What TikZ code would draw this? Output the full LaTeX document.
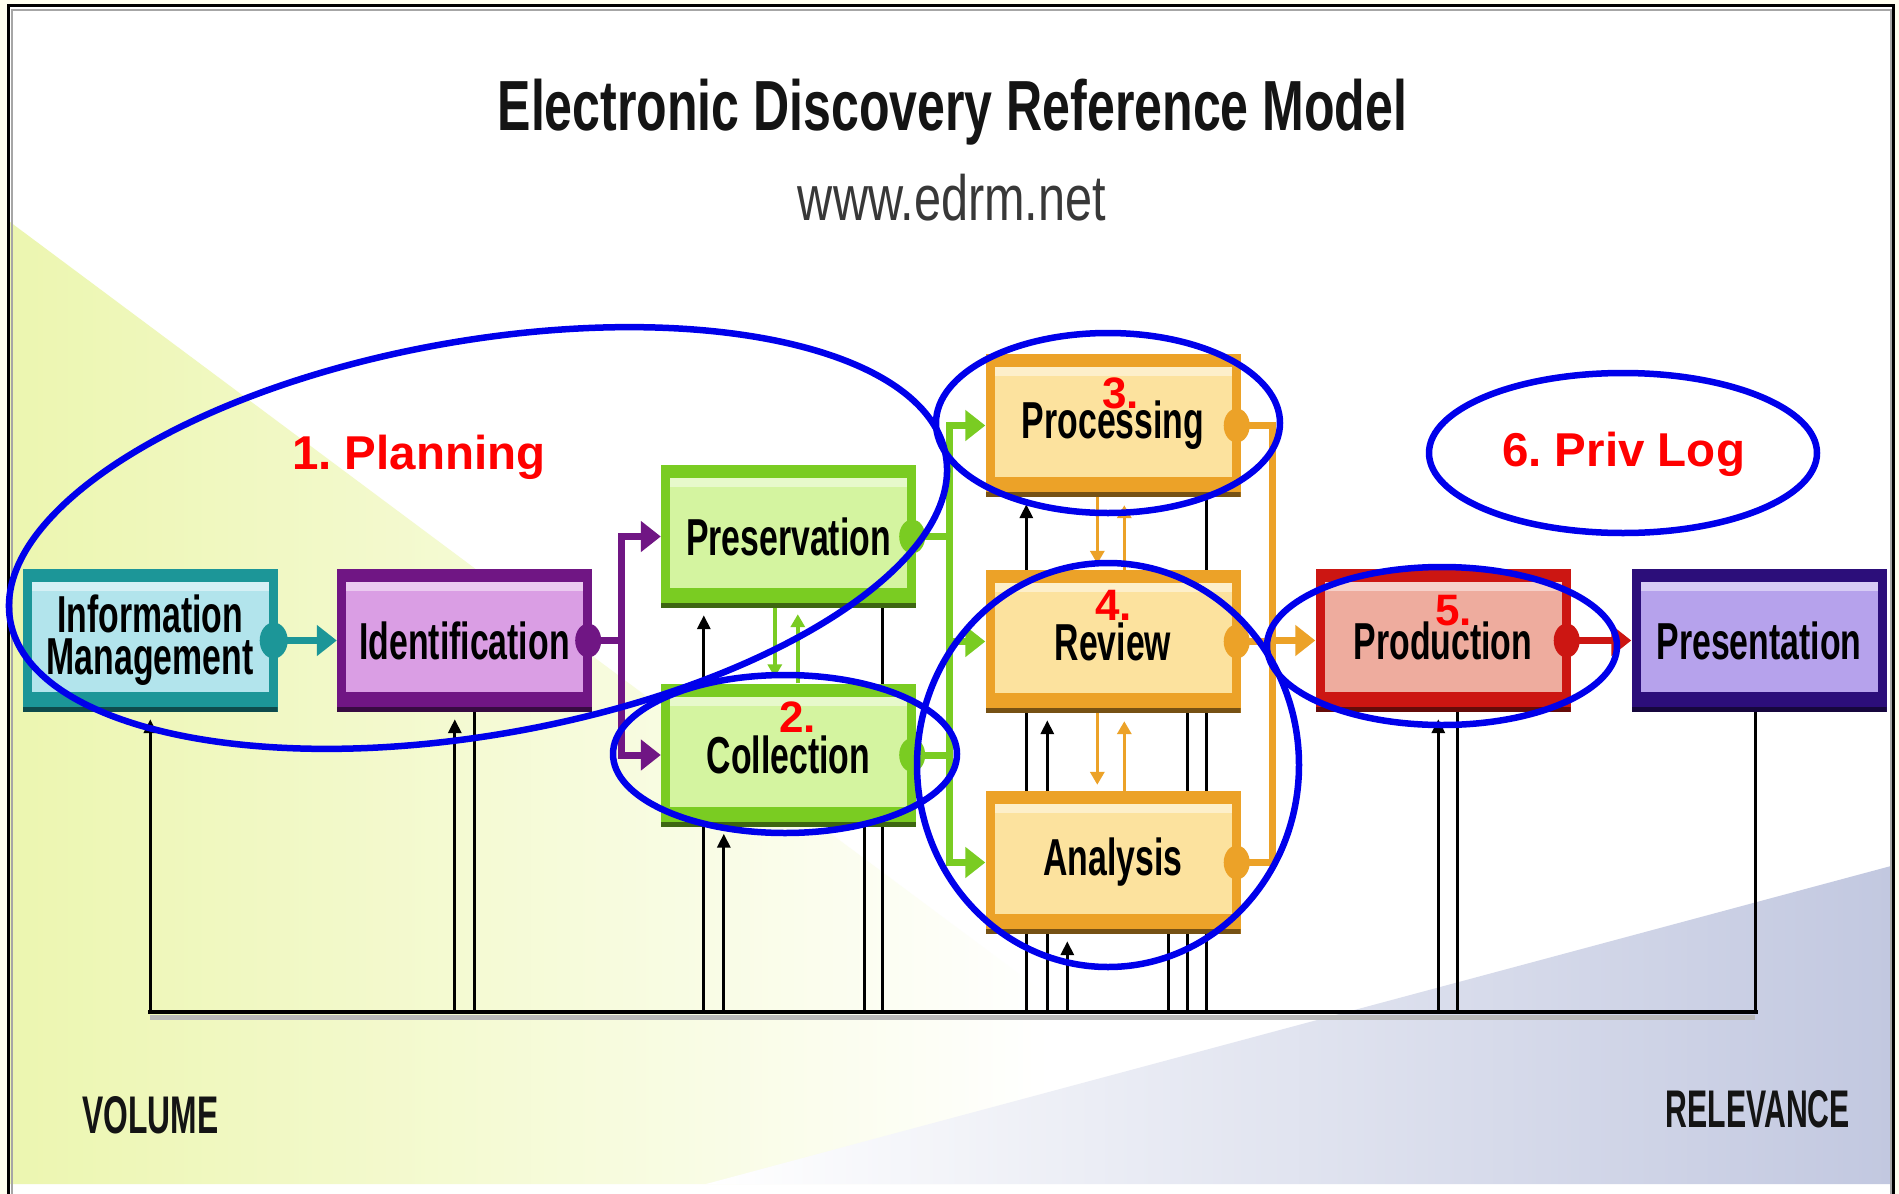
\documentclass[tikz,border=0pt]{standalone}
\usepackage{fontspec}
\setmainfont{Liberation Sans}
\newfontfamily\boxfam[FakeStretch=0.65]{Liberation Sans}
\newfontfamily\titlefam[FakeStretch=0.705]{Liberation Sans}
\newfontfamily\urlfam[FakeStretch=0.76]{Liberation Sans}
\newfontfamily\volfam[FakeStretch=0.6]{Liberation Sans}
\newfontfamily\relfam[FakeStretch=0.57]{Liberation Sans}
\usetikzlibrary{arrows.meta,calc}
\frenchspacing
\pgfdeclarelayer{back}
\pgfdeclarelayer{wires}
\pgfdeclarelayer{front}
\pgfsetlayers{back,wires,main,front}
\definecolor{tealD}{RGB}{28,150,152}
\definecolor{tealL}{RGB}{178,228,236}
\definecolor{purD}{RGB}{112,22,132}
\definecolor{purL}{RGB}{218,158,228}
\definecolor{grnD}{RGB}{122,204,34}
\definecolor{grnL}{RGB}{212,244,160}
\definecolor{orgD}{RGB}{236,162,40}
\definecolor{orgL}{RGB}{252,226,158}
\definecolor{redD}{RGB}{204,22,18}
\definecolor{redL}{RGB}{238,172,158}
\definecolor{indD}{RGB}{44,14,122}
\definecolor{indL}{RGB}{182,162,236}
\definecolor{yel}{RGB}{236,246,176}
\definecolor{blu}{RGB}{194,200,224}
\definecolor{cream}{RGB}{255,255,240}
\definecolor{annblue}{RGB}{0,0,235}
\definecolor{annred}{RGB}{255,0,0}
\tikzset{
  bigtip/.tip={Triangle[length=20pt,width=30pt]},
  smalltip/.tip={Triangle[length=13pt,width=14pt]},
  blktip/.tip={Triangle[length=14pt,width=13pt]},
  conn/.style={line width=7pt, line join=miter},
  thinconn/.style={line width=3.5pt},
  fb/.style={line width=3pt, draw=black},
  ann/.style={draw=annblue, line width=6.5pt},
  redlab/.style={text=annred, font=\bfseries\fontsize{47.5}{50}\selectfont, inner sep=0pt},
  numlab/.style={text=annred, font=\bfseries\fontsize{44}{46}\selectfont, inner sep=0pt},
  knob/.style={fill=#1},
  edbox/.style 2 args={rectangle, minimum width=255pt, minimum height=143pt,
    inner sep=0pt, fill=#1, text=black, align=center,
    font=\boxfam\bfseries\fontsize{52}{42}\selectfont,
    path picture={
      \fill[#2] ([shift={(9pt,20pt)}]path picture bounding box.south west)
        rectangle ([shift={(-9pt,-13pt)}]path picture bounding box.north east);
      \fill[#2!55!white] ([shift={(9pt,-13pt)}]path picture bounding box.north west)
        rectangle ([shift={(-9pt,-22pt)}]path picture bounding box.north east);
      \fill[#1!50!black] (path picture bounding box.south west)
        rectangle ([yshift=5pt]path picture bounding box.south east);
    }},
}
\begin{document}
\begin{tikzpicture}[x=1pt,y=-1pt]
\useasboundingbox (0,0) rectangle (1899,1194);
% ---------- background
\begin{pgfonlayer}{back}
\fill[cream] (0,0) rectangle (1899,1194);
\fill[white] (8,5) rectangle (1894,1194);
\begin{scope}
  \clip (10,222) -- (10,1184) -- (1301,1184) -- cycle;
  \shade[left color=yel, middle color=yel!45!white, right color=white] (10,222) rectangle (1050,1184);
\end{scope}
\shade[left color=white, middle color=blu!55!white, right color=blu] (706,1184) -- (1891,866) -- (1891,1184) -- cycle;
\draw[gray!70, line width=2pt] (11.5,1194) -- (11.5,9.5) -- (1890.5,9.5) -- (1890.5,1194);
\draw[black, line width=3.5pt] (8.5,1194) -- (8.5,5.5) -- (1893.5,5.5) -- (1893.5,1194);
\end{pgfonlayer}
% ---------- titles
\node[anchor=base, inner sep=0pt, text=black!92, font=\titlefam\bfseries\fontsize{71}{71}\selectfont] (title) at (952.5,130) {Electronic Discovery Reference Model};
\node[anchor=base, inner sep=0pt, text=black!78, font=\urlfam\fontsize{64}{64}\selectfont] (url) at (952,220) {www.edrm.net};
\node[anchor=base west, inner sep=0pt, text=black!92, font=\volfam\bfseries\fontsize{53}{53}\selectfont] (volume) at (82,1133) {VOLUME};
\node[anchor=base east, inner sep=0pt, text=black!92, font=\relfam\bfseries\fontsize{53}{53}\selectfont] (relevance) at (1850,1127) {RELEVANCE};
% ---------- boxes
\node[edbox={tealD}{tealL}] (info) at (150,640.5) {Information\\Management};
\node[edbox={purD}{purL}] (ident) at (464.5,640.5) {Identification};
\node[edbox={grnD}{grnL}] (pres) at (788.5,536.5) {Preservation};
\node[edbox={grnD}{grnL}] (coll) at (788.5,755) {Collection};
\node[edbox={orgD}{orgL}] (proc) at (1113,425.5) {Processing};
\node[edbox={orgD}{orgL}] (rev) at (1113,641.5) {Review};
\node[edbox={orgD}{orgL}] (ana) at (1113,862.5) {Analysis};
\node[edbox={redD}{redL}] (prod) at (1443,640.5) {Production};
\node[edbox={indD}{indL}] (present) at (1759,640.5) {Presentation};
% ---------- feedback lines and bus
\coordinate (busy) at (0,1012);
\path ([xshift=128pt]info.south west) coordinate (fInfo)
      ([xshift=118pt]ident.south west) coordinate (fIdA)
      ([xshift=138pt]ident.south west) coordinate (fIdB)
      ([xshift=43pt]pres.south west) coordinate (fPrA)
      ([xshift=222pt]pres.south west) coordinate (fPrB)
      ([xshift=63pt]coll.south west) coordinate (fCoA)
      ([xshift=204pt]coll.south west) coordinate (fCoB)
      ([xshift=41pt]proc.south west) coordinate (fPcA)
      ([xshift=221pt]proc.south west) coordinate (fPcB)
      ([xshift=62pt]rev.south west) coordinate (fRvA)
      ([xshift=202pt]rev.south west) coordinate (fRvB)
      ([xshift=82pt]ana.south west) coordinate (fAnA)
      ([xshift=183pt]ana.south west) coordinate (fAnB)
      ([xshift=123pt]prod.south west) coordinate (fPdA)
      ([xshift=142pt]prod.south west) coordinate (fPdB)
      ([xshift=124pt]present.south west) coordinate (fPs);
\begin{pgfonlayer}{wires}
\draw[line width=5pt, gray!55] ([yshift=-5pt]fInfo |- busy) -- ([yshift=-5pt]fPs |- busy);
\foreach \f in {fInfo,fIdA,fPrA,fCoA,fPcA,fRvA,fAnA,fPdA}
  \draw[fb, -blktip, shorten >=7pt] (\f |- busy) -- (\f);
\foreach \f in {fIdB,fPrB,fCoB,fPcB,fRvB,fAnB,fPdB,fPs}
  \draw[fb] (\f |- busy) -- (\f);
\draw[line width=4.5pt, black, line cap=rect] (fInfo |- busy) -- (fPs |- busy);
\end{pgfonlayer}
% ---------- thick connectors
\draw[conn, tealD, -bigtip] (info.east) -- (ident.west);
\path (ident.east) ++(29pt,0pt) coordinate (pj);
\draw[conn, purD] (ident.east) -- (pj);
\draw[conn, purD, -bigtip] (pj |- coll.west) -- (pj |- pres.west) -- (pres.west);
\draw[conn, purD, -bigtip] (pj) -- (pj |- coll.west) -- (coll.west);
\path (pres.east) ++(33pt,0pt) coordinate (gj);
\draw[conn, grnD] (pres.east) -- (gj |- pres.east);
\draw[conn, grnD] (coll.east) -- (gj |- coll.east);
\draw[conn, grnD, -bigtip] (gj |- ana.west) -- (gj |- proc.west) -- (proc.west);
\draw[conn, grnD, -bigtip] (gj |- proc.west) -- (gj |- ana.west) -- (ana.west);
\draw[conn, grnD, -bigtip] (gj |- rev.west) -- (rev.west);
\path (proc.east) ++(32pt,0pt) coordinate (oj);
\draw[conn, orgD] (proc.east) -- (oj) -- (oj |- ana.east) -- (ana.east);
\draw[conn, orgD] (rev.east) -- (oj |- rev.east);
\draw[conn, orgD, -bigtip] (oj |- prod.west) -- (prod.west);
\draw[conn, redD, -bigtip] (prod.east) -- (present.west);
% ---------- thin double arrows
\draw[thinconn, grnD, -smalltip, shorten >=6pt] ([xshift=114pt]pres.south west) -- ([xshift=114pt]coll.north west);
\draw[thinconn, grnD, -smalltip, shorten >=6pt] ([xshift=137pt]coll.north west) -- ([xshift=137pt]pres.south west);
\draw[thinconn, orgD, -smalltip, shorten >=6pt] ([xshift=112pt]proc.south west) -- ([xshift=112pt]rev.north west);
\draw[thinconn, orgD, -smalltip, shorten >=8pt] ([xshift=139pt]rev.north west) -- ([xshift=139pt]proc.south west);
\draw[thinconn, orgD, -smalltip, shorten >=6pt] ([xshift=112pt]rev.south west) -- ([xshift=112pt]ana.north west);
\draw[thinconn, orgD, -smalltip, shorten >=8pt] ([xshift=139pt]ana.north west) -- ([xshift=139pt]rev.south west);
% ---------- knobs
\fill[knob=tealD] ([xshift=-4pt]info.east) ellipse [x radius=14pt, y radius=18pt];
\fill[knob=purD] ([xshift=-4pt]ident.east) ellipse [x radius=13pt, y radius=17pt];
\fill[knob=grnD] ([xshift=-4pt]pres.east) ellipse [x radius=13pt, y radius=17pt];
\fill[knob=grnD] ([xshift=-4pt]coll.east) ellipse [x radius=13pt, y radius=17pt];
\fill[knob=orgD] ([xshift=-4pt]proc.east) ellipse [x radius=13pt, y radius=17pt];
\fill[knob=orgD] ([xshift=-4pt]rev.east) ellipse [x radius=13pt, y radius=17pt];
\fill[knob=orgD] ([xshift=-4pt]ana.east) ellipse [x radius=13pt, y radius=17pt];
\fill[knob=redD] ([xshift=-4pt]prod.east) ellipse [x radius=13pt, y radius=17pt];
% ---------- annotations
\begin{pgfonlayer}{front}
\draw[ann, rotate around={10:(478,538)}] (478,538) ellipse [x radius=475pt, y radius=197pt];
\draw[ann] (785,754) ellipse [x radius=172pt, y radius=79pt];
\draw[ann] (1108,423) ellipse [x radius=172pt, y radius=90pt];
\draw[ann] (1108,765) ellipse [x radius=191pt, y radius=202pt];
\draw[ann] (1442,646) ellipse [x radius=175pt, y radius=79pt];
\draw[ann] (1623,453) ellipse [x radius=194pt, y radius=80pt];
\node[redlab, anchor=base west] (lab1) at (292,469) {1. Planning};
\node[numlab, anchor=base west] (lab2) at (779,732) {2.};
\node[numlab, anchor=base west] (lab3) at (1102,408) {3.};
\node[numlab, anchor=base west] (lab4) at (1095,620) {4.};
\node[numlab, anchor=base west] (lab5) at (1435,625) {5.};
\node[redlab, anchor=base west] (lab6) at (1502,466) {6. Priv Log};
\end{pgfonlayer}
\end{tikzpicture}
\end{document}
